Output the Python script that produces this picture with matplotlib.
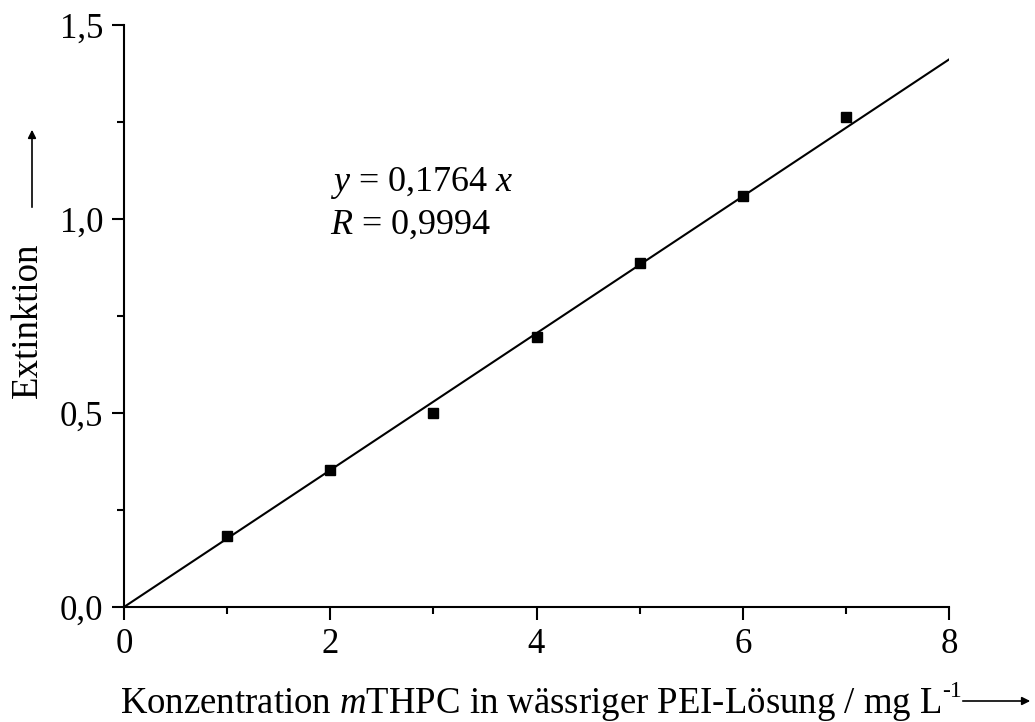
import matplotlib
matplotlib.use("Agg")
import matplotlib.pyplot as plt
from matplotlib.patches import FancyArrowPatch
from matplotlib.ticker import MultipleLocator, FuncFormatter

# Messwerte
konz = [1, 2, 3, 4, 5, 6, 7]
extinktion = [0.183, 0.353, 0.500, 0.696, 0.887, 1.059, 1.263]
steigung = 0.1764
fit_x = [0, 8]

plt.rcParams["font.family"] = ["Liberation Serif", "DejaVu Serif"]
plt.rcParams["mathtext.fontset"] = "custom"
plt.rcParams["mathtext.rm"] = "Liberation Serif"
plt.rcParams["mathtext.it"] = "Liberation Serif:italic"

W, H = 1035, 722
fig = plt.figure(figsize=(W / 100, H / 100), dpi=100)
ax = fig.add_axes([124 / W, 1 - 607 / H, (949 - 124) / W, (607 - 25) / H])

ax.plot(fit_x, [steigung * v for v in fit_x], color="black", linewidth=1.5)
ax.plot(konz, extinktion, "s", color="black", markersize=6.5)

ax.set_xlim(0, 8)
ax.set_ylim(0, 1.5)
ax.spines["top"].set_visible(False)
ax.spines["right"].set_visible(False)
for s in ["left", "bottom"]:
    ax.spines[s].set_linewidth(1.5)

ax.xaxis.set_major_locator(MultipleLocator(2))
ax.xaxis.set_minor_locator(MultipleLocator(1))
ax.yaxis.set_major_locator(MultipleLocator(0.5))
ax.yaxis.set_minor_locator(MultipleLocator(0.25))
ax.yaxis.set_major_formatter(FuncFormatter(lambda v, p: f"{v:.1f}".replace(".", ",")))
ax.tick_params(which="major", direction="out", length=9, width=1.5, labelsize=25, pad=6)
ax.tick_params(which="minor", direction="out", length=5, width=1.5)

ax.text(2.0, 1.092, r"$y$ = 0,1764 $x$", fontsize=26, va="center")
ax.text(2.0, 0.985, r"$R$ = 0,9994", fontsize=26, va="center")

# Achsenbeschriftungen mit Pfeilen
fig.text(28 / W, 1 - 320 / H, "Extinktion", rotation=90, fontsize=26.5,
         ha="center", va="center")
fig.add_artist(FancyArrowPatch(
    (32 / W, 1 - 210 / H), (32 / W, 1 - 127 / H), transform=fig.transFigure,
    arrowstyle="-|>", mutation_scale=12, color="black", linewidth=1.2))

xl = fig.text(120 / W, 1 - 713 / H, r"Konzentration $m$THPC in wässriger PEI-Lösung / mg L",
              fontsize=26.5, ha="left", va="baseline")
fig.canvas.draw()
bb = xl.get_window_extent()
fig.text(bb.x1 / W + 0.001, 1 - 697 / H, "-1", fontsize=17, ha="left", va="baseline")
fig.add_artist(FancyArrowPatch(
    (960 / W, 1 - 701 / H), (1033 / W, 1 - 701 / H), transform=fig.transFigure,
    arrowstyle="-|>", mutation_scale=12, color="black", linewidth=1.2))

fig.savefig("out.png", dpi=100)
